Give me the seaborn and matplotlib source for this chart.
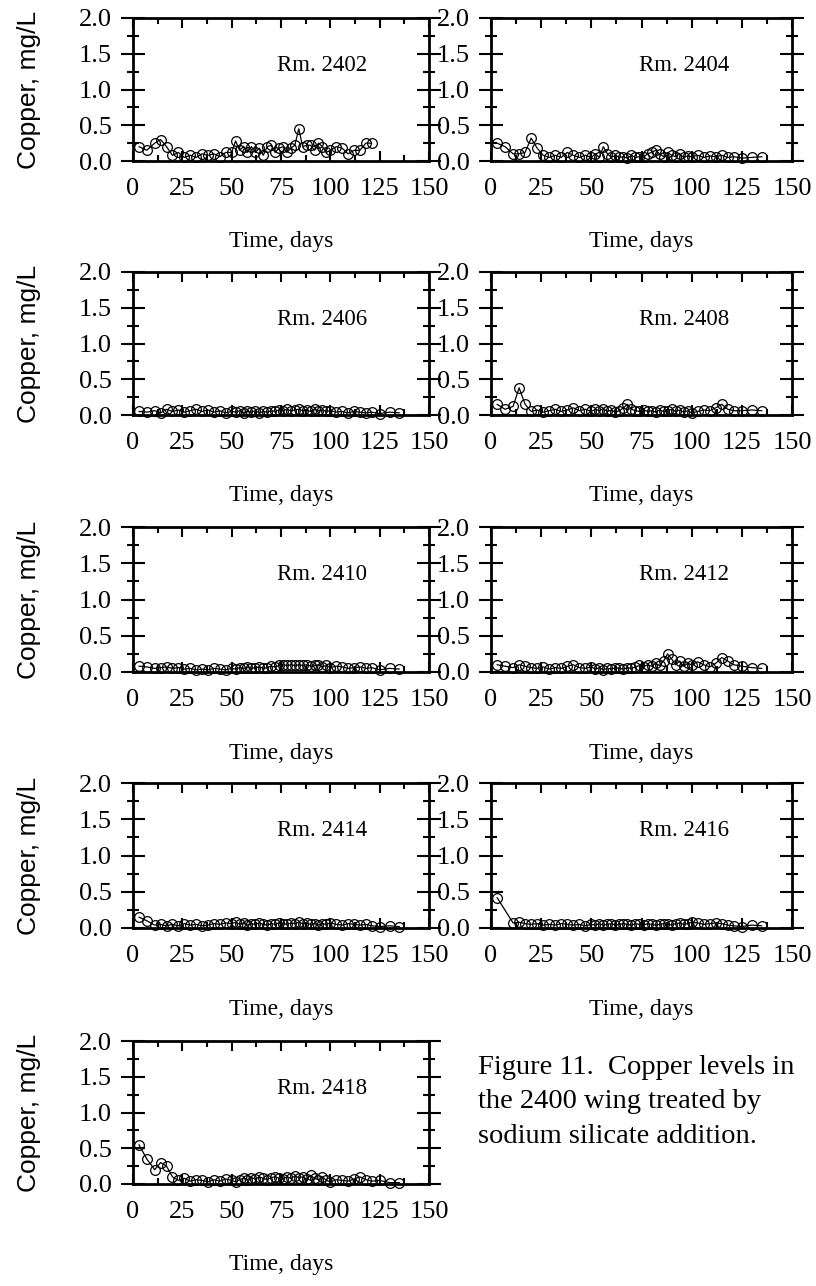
import matplotlib
matplotlib.use("Agg")
import matplotlib.pyplot as plt
from matplotlib.ticker import MultipleLocator, FormatStrFormatter
import pandas as pd
import seaborn as sns

# Sampling days (days after start of treatment)
days = [3, 7, 11, 14, 17, 20, 23, 26, 29, 32, 35, 38, 41, 44, 47, 50, 52, 54,
        56, 58, 60, 62, 64, 66, 68, 70, 72, 74, 76, 78, 80, 82, 84, 86, 88, 90,
        92, 94, 96, 98, 100, 103, 106, 109, 112, 115, 118, 121, 125, 130, 135]
days_2402 = days[:48]
days_2416 = [3] + days[2:]

# Copper, mg/L, per room
cu_2402 = [0.20, 0.15, 0.25, 0.30, 0.20, 0.08, 0.12, 0.05, 0.08, 0.05,
           0.10, 0.08, 0.10, 0.06, 0.12, 0.12, 0.28, 0.15, 0.20, 0.12,
           0.20, 0.12, 0.18, 0.08, 0.20, 0.22, 0.12, 0.18, 0.20, 0.12,
           0.18, 0.22, 0.45, 0.20, 0.22, 0.22, 0.15, 0.25, 0.20, 0.12,
           0.15, 0.20, 0.18, 0.10, 0.15, 0.15, 0.25, 0.25]
cu_2404 = [0.25, 0.20, 0.10, 0.10, 0.12, 0.32, 0.18, 0.08, 0.05, 0.08,
           0.05, 0.12, 0.08, 0.05, 0.08, 0.05, 0.10, 0.05, 0.20, 0.10,
           0.05, 0.08, 0.05, 0.06, 0.04, 0.08, 0.05, 0.06, 0.05, 0.10,
           0.12, 0.15, 0.10, 0.06, 0.12, 0.08, 0.06, 0.10, 0.05, 0.07,
           0.06, 0.08, 0.05, 0.07, 0.06, 0.08, 0.05, 0.06, 0.04, 0.05, 0.06]
cu_2406 = [0.05, 0.04, 0.06, 0.03, 0.08, 0.05, 0.07, 0.04, 0.06, 0.08,
           0.05, 0.07, 0.04, 0.06, 0.03, 0.05, 0.04, 0.06, 0.03, 0.05,
           0.04, 0.06, 0.03, 0.05, 0.04, 0.06, 0.05, 0.07, 0.06, 0.08,
           0.06, 0.07, 0.08, 0.06, 0.07, 0.05, 0.08, 0.06, 0.07, 0.05,
           0.06, 0.04, 0.05, 0.03, 0.05, 0.04, 0.03, 0.04, 0.02, 0.04, 0.03]
cu_2408 = [0.15, 0.08, 0.12, 0.38, 0.15, 0.05, 0.07, 0.04, 0.06, 0.08,
           0.05, 0.07, 0.10, 0.06, 0.08, 0.05, 0.08, 0.06, 0.09, 0.05,
           0.07, 0.04, 0.06, 0.10, 0.15, 0.08, 0.06, 0.05, 0.07, 0.05,
           0.06, 0.04, 0.07, 0.05, 0.06, 0.08, 0.05, 0.07, 0.04, 0.06,
           0.03, 0.05, 0.07, 0.06, 0.10, 0.15, 0.08, 0.06, 0.06, 0.07, 0.06]
cu_2410 = [0.08, 0.07, 0.05, 0.06, 0.07, 0.05, 0.06, 0.04, 0.05, 0.03,
           0.04, 0.03, 0.05, 0.04, 0.03, 0.05, 0.04, 0.06, 0.05, 0.07,
           0.05, 0.06, 0.07, 0.05, 0.06, 0.08, 0.07, 0.09, 0.10, 0.09,
           0.10, 0.09, 0.10, 0.09, 0.10, 0.08, 0.09, 0.10, 0.07, 0.09,
           0.06, 0.08, 0.07, 0.05, 0.06, 0.07, 0.05, 0.06, 0.03, 0.05, 0.04]
cu_2412 = [0.10, 0.08, 0.06, 0.10, 0.08, 0.06, 0.05, 0.07, 0.04, 0.06,
           0.05, 0.08, 0.10, 0.06, 0.05, 0.07, 0.04, 0.06, 0.03, 0.05,
           0.04, 0.06, 0.05, 0.04, 0.06, 0.05, 0.07, 0.09, 0.07, 0.10,
           0.08, 0.12, 0.09, 0.15, 0.25, 0.18, 0.10, 0.15, 0.08, 0.12,
           0.10, 0.14, 0.10, 0.07, 0.12, 0.20, 0.15, 0.10, 0.08, 0.06, 0.05]
cu_2414 = [0.15, 0.10, 0.04, 0.05, 0.03, 0.05, 0.03, 0.06, 0.04, 0.05,
           0.03, 0.04, 0.06, 0.05, 0.07, 0.06, 0.08, 0.05, 0.07, 0.04,
           0.06, 0.05, 0.07, 0.05, 0.04, 0.06, 0.05, 0.07, 0.06, 0.05,
           0.07, 0.06, 0.08, 0.06, 0.07, 0.05, 0.06, 0.04, 0.06, 0.05,
           0.07, 0.05, 0.04, 0.06, 0.05, 0.04, 0.05, 0.03, 0.02, 0.03, 0.02]
cu_2416 = [0.42, 0.07, 0.08, 0.06, 0.05, 0.06, 0.04, 0.05, 0.04, 0.06,
           0.05, 0.04, 0.05, 0.03, 0.05, 0.04, 0.06, 0.04, 0.05, 0.06,
           0.04, 0.05, 0.06, 0.05, 0.04, 0.06, 0.05, 0.04, 0.06, 0.05,
           0.04, 0.05, 0.06, 0.05, 0.04, 0.06, 0.07, 0.05, 0.06, 0.08,
           0.07, 0.05, 0.06, 0.07, 0.06, 0.04, 0.03, 0.02, 0.04, 0.03]
cu_2418 = [0.55, 0.35, 0.20, 0.30, 0.25, 0.10, 0.05, 0.08, 0.04, 0.06,
           0.05, 0.03, 0.06, 0.04, 0.07, 0.05, 0.03, 0.06, 0.08, 0.06,
           0.09, 0.07, 0.10, 0.08, 0.06, 0.09, 0.10, 0.08, 0.07, 0.10,
           0.08, 0.11, 0.09, 0.10, 0.07, 0.12, 0.08, 0.06, 0.10, 0.05,
           0.03, 0.06, 0.05, 0.04, 0.07, 0.10, 0.06, 0.04, 0.05, 0.02, 0.02]

rooms = ["Rm. 2402", "Rm. 2404", "Rm. 2406", "Rm. 2408", "Rm. 2410",
         "Rm. 2412", "Rm. 2414", "Rm. 2416", "Rm. 2418"]
room_days = [days_2402, days, days, days, days, days, days, days_2416, days]
room_cu = [cu_2402, cu_2404, cu_2406, cu_2408, cu_2410,
           cu_2412, cu_2414, cu_2416, cu_2418]

x_ticks = [0, 25, 50, 75, 100, 125, 150]
y_ticks = [0.0, 0.5, 1.0, 1.5, 2.0]

caption = ("Figure 11.  Copper levels in\n"
           "the 2400 wing treated by\n"
           "sodium silicate addition.")

df = pd.concat(
    [pd.DataFrame({"room": r, "day": d, "copper": c})
     for r, d, c in zip(rooms, room_days, room_cu)],
    ignore_index=True)

sns.set_theme(style="white")
plt.rcParams["font.family"] = ["Liberation Serif", "DejaVu Serif"]

W, H = 816, 1286
fig = plt.figure(figsize=(W / 100, H / 100), dpi=100)
fig.patch.set_facecolor("white")

# panel boxes in pixel units: (left, right) per column, (top, bottom) per row
cols = [(133, 429), (491, 792)]
rows = [(18, 161), (272, 415), (527, 672), (783, 928), (1041, 1184)]

for i, room in enumerate(rooms):
    r, c = divmod(i, 2)
    x0, x1 = cols[c]
    y0, y1 = rows[r]
    ax = fig.add_axes([x0 / W, 1 - y1 / H, (x1 - x0) / W, (y1 - y0) / H])
    sub = df[df["room"] == room]
    sns.lineplot(data=sub, x="day", y="copper", ax=ax, sort=False,
                 errorbar=None, color="black", linewidth=0.9,
                 marker="o", markersize=7, markerfacecolor="none",
                 markeredgecolor="black", markeredgewidth=0.9, clip_on=False)

    ax.set_xlim(x_ticks[0], x_ticks[-1])
    ax.set_ylim(y_ticks[0], y_ticks[-1])
    ax.set_xticks(x_ticks)
    ax.set_yticks(y_ticks)
    ax.xaxis.set_minor_locator(MultipleLocator(12.5))
    ax.yaxis.set_minor_locator(MultipleLocator(0.25))
    ax.yaxis.set_major_formatter(FormatStrFormatter("%.1f"))

    for s in ax.spines.values():
        s.set_linewidth(2.0)
        s.set_color("black")
        s.set_zorder(5)

    ax.tick_params(axis="x", which="both", direction="in", top=True,
                   bottom=True, width=1.5, color="black")
    ax.tick_params(axis="x", which="major", length=7, labelsize=19, pad=12)
    ax.tick_params(axis="x", which="minor", length=4)
    ax.tick_params(axis="y", which="both", direction="inout", left=True,
                   right=True, width=1.5, color="black")
    ax.tick_params(axis="y", which="major", length=17, labelsize=19, pad=7)
    ax.tick_params(axis="y", which="minor", length=8)
    for lab in ax.get_xticklabels() + ax.get_yticklabels():
        lab.set_color("black")

    ax.set_xlabel("Time, days", fontsize=17, color="black")
    ax.xaxis.set_label_coords(0.5, -0.49)
    if c == 0:
        ax.set_ylabel("Copper, mg/L", fontsize=19, color="black",
                      family=["Liberation Sans", "DejaVu Sans"])
        ax.yaxis.set_label_coords(-0.31, 0.5)
    else:
        ax.set_ylabel("")

    ax.text(0.64, 0.67, room, transform=ax.transAxes, ha="center",
            va="center", fontsize=16.5, color="black")
    ax.grid(False)

fig.text(478 / W, 1 - 1055 / H, caption, ha="left", va="top", fontsize=20.5,
         linespacing=1.5, color="black")

fig.savefig("out.png", dpi=100, facecolor="white")
